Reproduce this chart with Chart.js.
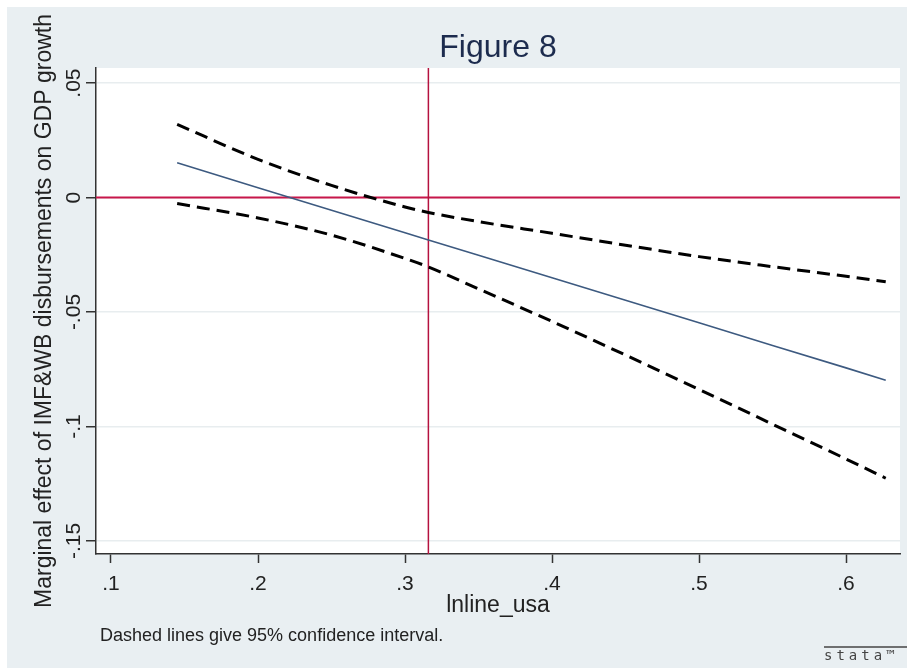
<!DOCTYPE html>
<html>
<head>
<meta charset="utf-8">
<script src="https://cdn.jsdelivr.net/npm/chart.js@4/dist/chart.umd.min.js"></script>
<style>
  html, body { margin: 0; padding: 0; background: #ffffff; overflow: hidden; }
  canvas { display: block; }
</style>
</head>
<body>
<canvas id="c" width="907" height="668"></canvas>
<script>
// ---- data ----
const xValues = [0.145, 0.2, 0.25, 0.3, 0.3159, 0.35, 0.4, 0.45, 0.5, 0.55, 0.6, 0.627];
const marginalEffect = [0.0152, 0.0043, -0.0055, -0.0154, -0.0185, -0.0252, -0.0350, -0.0449, -0.0547, -0.0646, -0.0744, -0.0798];
const upperCI = [0.0320, 0.0167, 0.0053, -0.0041, -0.0065, -0.0105, -0.0156, -0.0208, -0.0258, -0.0302, -0.0344, -0.0368];
const lowerCI = [-0.0026, -0.0089, -0.0164, -0.0266, -0.0303, -0.0399, -0.0541, -0.0688, -0.0838, -0.0990, -0.1142, -0.1226];
const refLineX = 0.3159;
const refLineY = 0;
const xTickValues = [0.1, 0.2, 0.3, 0.4, 0.5, 0.6];
const xTickLabels = ['.1', '.2', '.3', '.4', '.5', '.6'];
const yTickValues = [0.05, 0, -0.05, -0.1, -0.15];
const yTickLabels = ['.05', '0', '-.05', '-.1', '-.15'];
const titleText = 'Figure 8';
const xTitleText = 'lnline_usa';
const yTitleText = 'Marginal effect of IMF&WB disbursements on GDP growth';
const noteText = 'Dashed lines give 95% confidence interval.';

const FONT = '"Liberation Sans", Arial, Helvetica, sans-serif';

function pts(ys) { return xValues.map((x, i) => ({ x: x, y: ys[i] })); }

const decor = {
  id: 'decor',
  beforeDraw(chart) {
    const ctx = chart.ctx, W = chart.width, H = chart.height, a = chart.chartArea;
    ctx.save();
    ctx.fillStyle = '#ffffff';
    ctx.fillRect(0, 0, W, H);
    ctx.fillStyle = '#e9eff2';
    ctx.fillRect(7, 7, W - 7, H - 7);
    ctx.fillStyle = '#ffffff';
    ctx.fillRect(a.left, a.top, a.right - a.left, a.bottom - a.top);
    ctx.restore();
  },
  beforeDatasetsDraw(chart) {
    const ctx = chart.ctx, a = chart.chartArea;
    const xs = chart.scales.x, ys = chart.scales.y;
    ctx.save();
    const py = ys.getPixelForValue(refLineY);
    ctx.strokeStyle = '#c8174a';
    ctx.lineWidth = 2;
    ctx.beginPath(); ctx.moveTo(a.left, py); ctx.lineTo(a.right, py); ctx.stroke();
    const px = xs.getPixelForValue(refLineX);
    ctx.strokeStyle = '#b5123f';
    ctx.lineWidth = 1.5;
    ctx.beginPath(); ctx.moveTo(px, a.top); ctx.lineTo(px, a.bottom); ctx.stroke();
    ctx.restore();
  },
  afterDraw(chart) {
    const ctx = chart.ctx, a = chart.chartArea, W = chart.width;
    const ys = chart.scales.y;
    const cx = (a.left + a.right) / 2;
    ctx.save();
    // title
    ctx.fillStyle = '#1c2b4e';
    ctx.font = '32px ' + FONT;
    ctx.textAlign = 'center';
    ctx.textBaseline = 'alphabetic';
    ctx.fillText(titleText, cx, 57);
    // y tick labels (rotated)
    ctx.fillStyle = '#222222';
    ctx.font = '21px ' + FONT;
    yTickValues.forEach((v, i) => {
      const y = ys.getPixelForValue(v);
      ctx.save();
      ctx.translate(80, y);
      ctx.rotate(-Math.PI / 2);
      ctx.textAlign = 'center';
      ctx.textBaseline = 'alphabetic';
      ctx.fillText(yTickLabels[i], 0, 0);
      ctx.restore();
    });
    // y title
    ctx.save();
    ctx.font = '23px ' + FONT;
    ctx.translate(51, (a.top + a.bottom) / 2);
    ctx.rotate(-Math.PI / 2);
    ctx.textAlign = 'center';
    ctx.fillText(yTitleText, 0, 0);
    ctx.restore();
    // x title
    ctx.font = '23px ' + FONT;
    ctx.textAlign = 'center';
    ctx.fillText(xTitleText, cx, 612);
    // note
    ctx.font = '18px ' + FONT;
    ctx.textAlign = 'left';
    ctx.fillText(noteText, 100, 641);
    // stata logo
    ctx.strokeStyle = '#444444';
    ctx.lineWidth = 1.5;
    ctx.beginPath(); ctx.moveTo(824, 647); ctx.lineTo(W, 647); ctx.stroke();
    ctx.fillStyle = '#444444';
    ctx.font = '14px "DejaVu Sans Mono", monospace';
    if ('letterSpacing' in ctx) ctx.letterSpacing = '4px';
    ctx.fillText('stata\u2122', 824, 660);
    ctx.restore();
  }
};

new Chart(document.getElementById('c'), {
  type: 'line',
  data: {
    datasets: [
      {
        label: 'Upper 95% CI',
        data: pts(upperCI),
        borderColor: '#000000',
        borderWidth: 3,
        borderDash: [13, 7],
        pointRadius: 0,
        fill: false,
        cubicInterpolationMode: 'monotone'
      },
      {
        label: 'Marginal effect',
        data: pts(marginalEffect),
        borderColor: '#3d5a80',
        borderWidth: 1.6,
        pointRadius: 0,
        fill: false
      },
      {
        label: 'Lower 95% CI',
        data: pts(lowerCI),
        borderColor: '#000000',
        borderWidth: 3,
        borderDash: [13, 7],
        pointRadius: 0,
        fill: false,
        cubicInterpolationMode: 'monotone'
      }
    ]
  },
  options: {
    responsive: false,
    animation: false,
    devicePixelRatio: 1,
    layout: { padding: { left: 0, right: 7, top: 68, bottom: 0 } },
    plugins: {
      legend: { display: false },
      title: { display: false },
      tooltip: { enabled: false }
    },
    scales: {
      x: {
        type: 'linear',
        min: 0.0898,
        max: 0.6367,
        afterBuildTicks(s) { s.ticks = xTickValues.map(v => ({ value: v })); },
        afterFit(s) { s.height = 114; },
        ticks: {
          callback(v) { const i = xTickValues.findIndex(t => Math.abs(t - v) < 1e-9); return i >= 0 ? xTickLabels[i] : ''; },
          font: { family: FONT, size: 21 },
          color: '#222222',
          padding: 9,
          maxRotation: 0,
          autoSkip: false
        },
        grid: { drawOnChartArea: false, drawTicks: true, tickLength: 9, tickColor: '#333333', tickWidth: 1.5 },
        border: { display: true, color: '#333333', width: 1.5 }
      },
      y: {
        type: 'linear',
        min: -0.1557,
        max: 0.0566,
        afterBuildTicks(s) { s.ticks = yTickValues.map(v => ({ value: v })); },
        afterFit(s) { s.width = 96; },
        ticks: { display: false },
        grid: { drawOnChartArea: true, color: '#e8edef', lineWidth: 1.5, drawTicks: true, tickLength: 10, tickColor: '#333333', tickWidth: 1.5 },
        border: { display: true, color: '#333333', width: 1.5 }
      }
    }
  },
  plugins: [decor]
});
</script>
</body>
</html>
